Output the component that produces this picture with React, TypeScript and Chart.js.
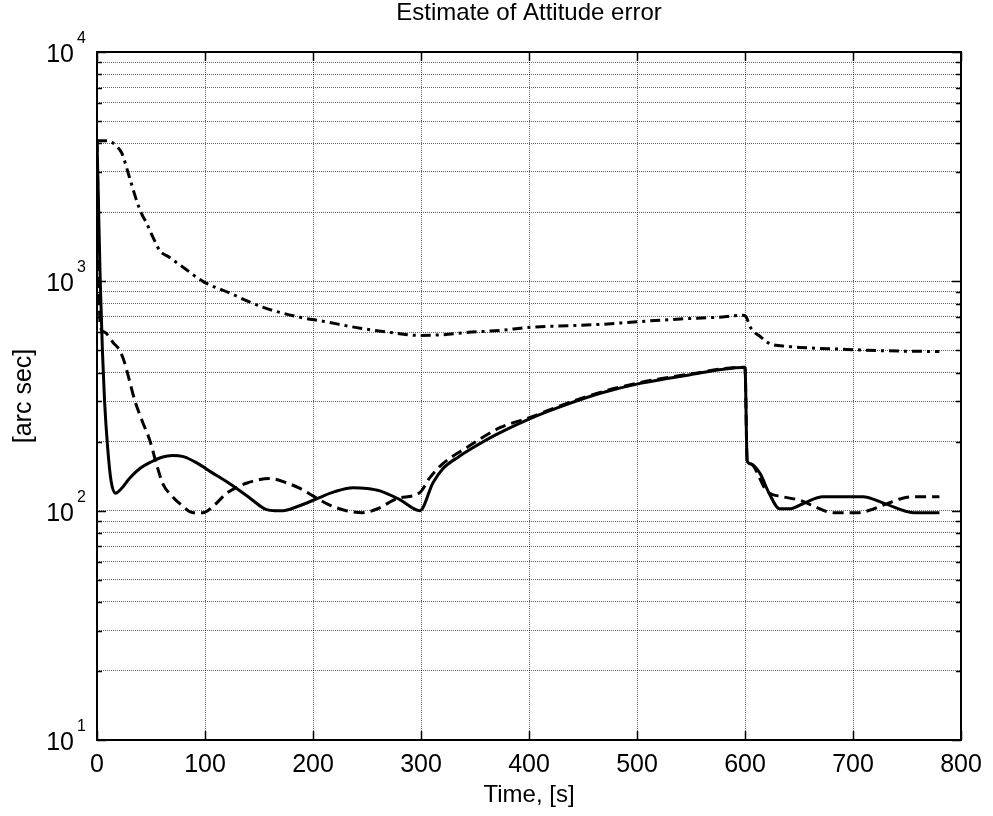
import React, { useEffect, useRef } from "react";
import { Chart, registerables } from "chart.js";

Chart.register(...registerables);

const titleText = "Estimate of Attitude error";
const xAxisLabel = "Time, [s]";
const yAxisLabel = "[arc sec]";

const xTickValues = [0, 100, 200, 300, 400, 500, 600, 700, 800];
const yDecadeExponents = [1, 2, 3, 4];
const yMinorMultipliers = [1, 2, 3, 4, 5, 6, 7, 8, 9];

// Solid line
const solidTime = [0, 1, 3, 5, 7, 10, 13, 17, 22, 30, 40, 50, 60, 70, 80, 92, 105, 123, 140, 157, 165, 172, 185, 206, 220, 237, 250, 262, 280, 299, 311, 320, 335, 348, 370, 401, 430, 466, 503, 550, 598, 600, 602, 605, 614, 622, 632, 642, 655, 672, 709, 730, 756, 780];
const solidValues = [4100, 2600, 1000, 500, 300, 185, 135, 119, 124, 138, 153, 163, 171, 174, 172, 162, 148, 131, 115, 101, 100, 100, 104, 114, 121, 126, 125, 122, 112, 100, 132, 152, 172, 188, 215, 252, 285, 325, 359, 392, 421, 421, 165, 160, 145, 120, 102, 102, 108, 115, 115, 107, 98, 98];

// Dashed line
const dashedTime = [0, 1, 2, 3, 7, 15, 21, 25, 30, 35, 42, 49, 55, 61, 70, 77, 89, 98, 108, 120, 139, 160, 176, 188, 200, 215, 231, 246, 260, 278, 299, 308, 320, 342, 373, 401, 430, 466, 503, 550, 598, 600, 602, 605, 620, 635, 651, 665, 681, 704, 731, 745, 756, 780];
const dashedValues = [4100, 2000, 900, 640, 600, 540, 500, 450, 370, 302, 245, 202, 160, 131, 115, 107, 98, 98, 105, 119, 132, 138, 132, 125, 116, 106, 100, 98, 102, 113, 120, 139, 160, 188, 230, 255, 288, 328, 362, 395, 422, 422, 165, 160, 122, 115, 111, 104, 98, 98, 107, 113, 115, 115];

// Dash-dot line
const dashDotTime = [0, 10, 15, 19, 23, 30, 36, 41, 46, 52, 58, 67, 80, 98, 123, 154, 188, 209, 244, 270, 299, 320, 342, 373, 401, 466, 503, 540, 574, 598, 601, 605, 615, 623, 640, 651, 694, 730, 780];
const dashDotValues = [4100, 4100, 4000, 3850, 3620, 2850, 2300, 1983, 1790, 1550, 1364, 1273, 1150, 1000, 888, 770, 697, 670, 624, 600, 581, 585, 598, 611, 630, 649, 668, 685, 697, 711, 700, 630, 570, 535, 520, 515, 505, 498, 494];

const FONT = '"Liberation Sans", Arial, Helvetica, sans-serif';

function toPoints(times: number[], values: number[]) {
  return times.map((t, i) => ({ x: t, y: values[i] }));
}

const matlabAxesPlugin = {
  id: "matlabAxes",
  afterDraw(chart: any) {
    const { ctx, chartArea } = chart;
    const { left, right, top, bottom } = chartArea;
    const xs = chart.scales.x;
    const ys = chart.scales.y;
    ctx.save();
    ctx.strokeStyle = "#000";
    ctx.lineWidth = 1.5;
    ctx.setLineDash([]);
    ctx.beginPath();
    xTickValues.forEach((v) => {
      const px = Math.round(xs.getPixelForValue(v)) + 0.5;
      ctx.moveTo(px, bottom);
      ctx.lineTo(px, bottom - 9);
      ctx.moveTo(px, top);
      ctx.lineTo(px, top + 9);
    });
    ys.ticks.forEach((t: any) => {
      const py = Math.round(ys.getPixelForValue(t.value)) + 0.5;
      const major = Math.abs(Math.log10(t.value) - Math.round(Math.log10(t.value))) < 1e-9;
      const len = major ? 9 : 5;
      ctx.moveTo(left, py);
      ctx.lineTo(left + len, py);
      ctx.moveTo(right, py);
      ctx.lineTo(right - len, py);
    });
    ctx.stroke();
    ctx.lineWidth = 2;
    ctx.strokeRect(left, top, right - left, bottom - top);

    ctx.fillStyle = "#000";
    ctx.font = `25px ${FONT}`;
    ctx.textAlign = "center";
    ctx.textBaseline = "alphabetic";
    xTickValues.forEach((v) => {
      ctx.fillText(String(v), xs.getPixelForValue(v), bottom + 32);
    });
    yDecadeExponents.forEach((e) => {
      const py = ys.getPixelForValue(Math.pow(10, e));
      ctx.font = `25px ${FONT}`;
      ctx.textAlign = "right";
      ctx.fillText("10", left - 23, py + 10);
      ctx.font = `16px ${FONT}`;
      ctx.textAlign = "left";
      ctx.fillText(String(e), left - 20, py - 9);
    });
    ctx.restore();
  },
};

export default function App() {
  const canvasRef = useRef<HTMLCanvasElement | null>(null);

  useEffect(() => {
    const canvas = canvasRef.current;
    if (!canvas) return;
    const yTickList: number[] = [];
    yDecadeExponents.slice(0, -1).forEach((e) => {
      yMinorMultipliers.forEach((m) => yTickList.push(m * Math.pow(10, e)));
    });
    yTickList.push(Math.pow(10, yDecadeExponents[yDecadeExponents.length - 1]));

    const chart = new Chart(canvas, {
      type: "line",
      data: {
        datasets: [
          {
            label: "solid",
            data: toPoints(solidTime, solidValues),
            borderColor: "#000",
            borderWidth: 3,
            pointRadius: 0,
            cubicInterpolationMode: "monotone",
            fill: false,
          },
          {
            label: "dashed",
            data: toPoints(dashedTime, dashedValues),
            borderColor: "#000",
            borderWidth: 3,
            borderDash: [11, 6],
            pointRadius: 0,
            cubicInterpolationMode: "monotone",
            fill: false,
          },
          {
            label: "dash-dot",
            data: toPoints(dashDotTime, dashDotValues),
            borderColor: "#000",
            borderWidth: 3,
            borderDash: [10, 5, 3, 5],
            pointRadius: 0,
            cubicInterpolationMode: "monotone",
            fill: false,
          },
        ],
      },
      options: {
        responsive: false,
        animation: false,
        events: [],
        layout: { padding: { top: 0, left: 0, right: 32, bottom: 0 } },
        plugins: {
          legend: { display: false },
          tooltip: { enabled: false },
          title: {
            display: true,
            text: titleText,
            fullSize: false,
            color: "#000",
            font: { family: FONT, size: 24, weight: "normal", lineHeight: 1 },
            padding: { top: 1, bottom: 27 },
          },
        },
        scales: {
          x: {
            type: "linear",
            min: 0,
            max: 800,
            ticks: { display: false, stepSize: 100 },
            afterBuildTicks: (scale: any) => {
              scale.ticks = xTickValues.map((v) => ({ value: v }));
            },
            grid: { color: "rgba(0,0,0,0.6)", lineWidth: 1, drawTicks: false },
            border: { display: false, dash: [1, 1] },
            title: {
              display: true,
              text: xAxisLabel,
              color: "#000",
              font: { family: FONT, size: 24, weight: "normal" },
              padding: { top: 0, bottom: 6.6 },
            },
            afterFit: (scale: any) => {
              scale.height = 76;
            },
          },
          y: {
            type: "logarithmic",
            min: 10,
            max: 10000,
            ticks: { display: false },
            afterBuildTicks: (scale: any) => {
              scale.ticks = yTickList.map((v) => ({ value: v }));
            },
            grid: { color: "rgba(0,0,0,0.6)", lineWidth: 1, drawTicks: false },
            border: { display: false, dash: [1, 1] },
            title: {
              display: true,
              text: yAxisLabel,
              color: "#000",
              font: { family: FONT, size: 25, weight: "normal" },
              padding: { top: 9, bottom: 0 },
            },
            afterFit: (scale: any) => {
              scale.width = 97;
            },
          },
        },
      },
      plugins: [matlabAxesPlugin],
    } as any);

    return () => {
      chart.destroy();
    };
  }, []);

  return (
    <div style={{ position: "absolute", left: 0, top: 0, width: 993, height: 816, background: "#fff" }}>
      <canvas ref={canvasRef} width={993} height={816} style={{ display: "block" }} />
    </div>
  );
}
